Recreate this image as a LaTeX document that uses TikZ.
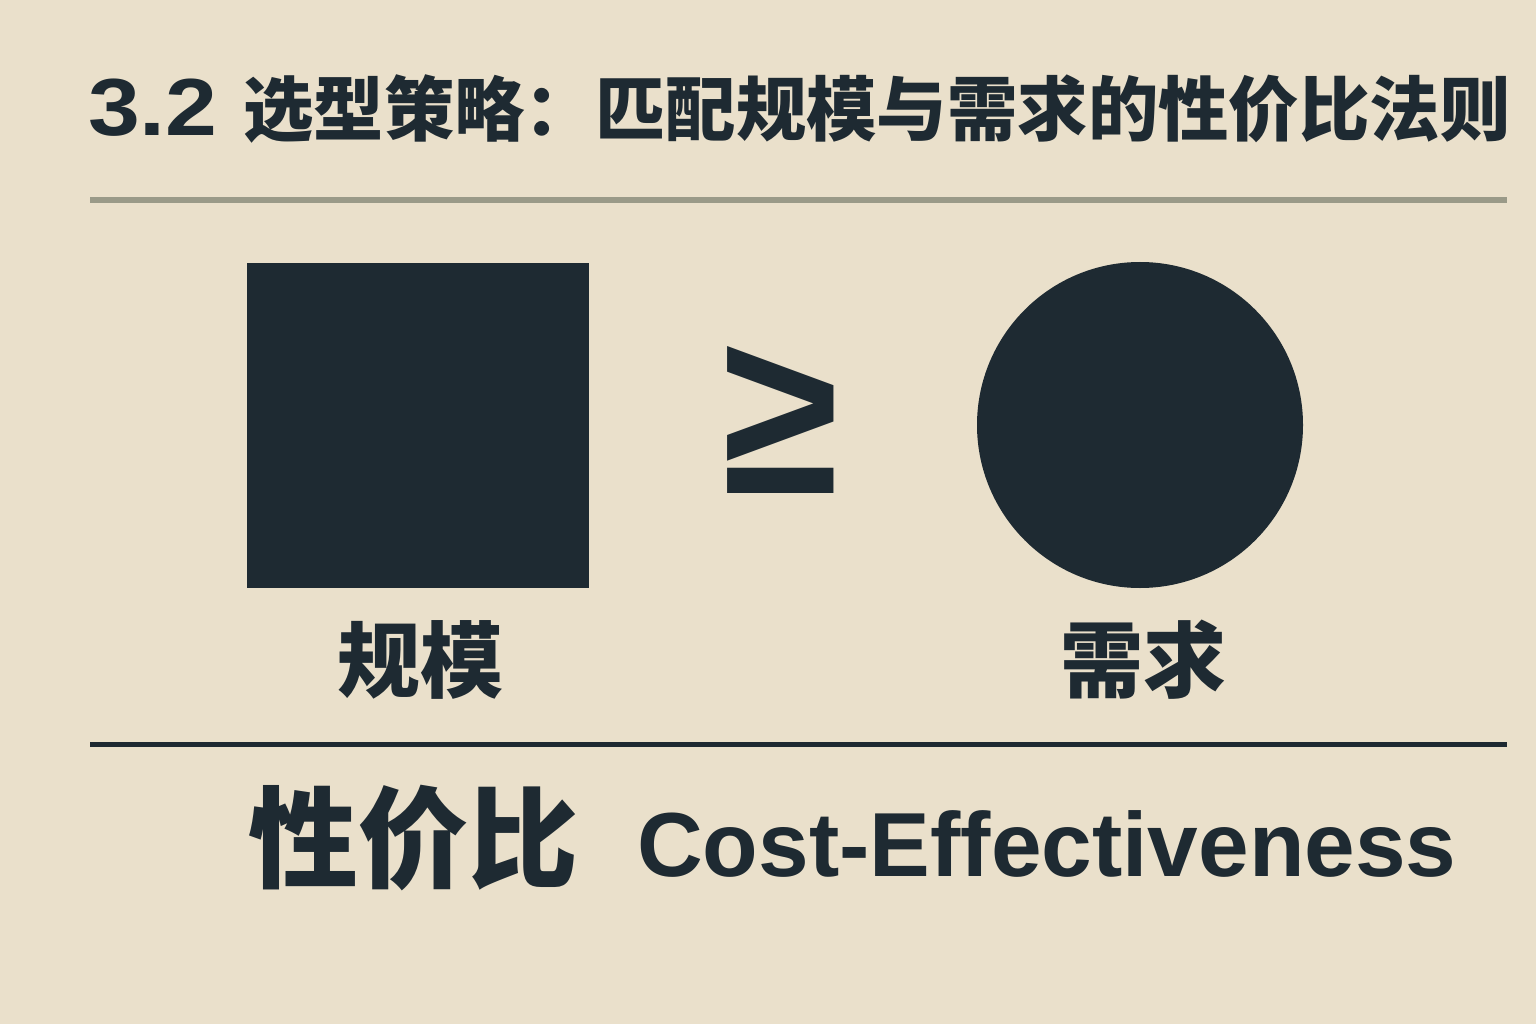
\documentclass[tikz,border=0pt]{standalone}
\usepackage{fontspec}
\usetikzlibrary{positioning}
\newfontfamily\cjk{Noto Sans CJK SC}
\newfontfamily\latin{Liberation Sans}
\definecolor{paper}{HTML}{EAE0CB}
\definecolor{ink}{HTML}{1E2A32}
\definecolor{rulec}{HTML}{9A9A88}
\tikzstyle{heading}=[text=ink, inner sep=0pt,
    font=\cjk\bfseries\fontsize{70.4}{80}\selectfont]
\tikzstyle{lbl}=[text=ink, inner sep=0pt,
    font=\cjk\bfseries\fontsize{83}{90}\selectfont]
\tikzstyle{big}=[text=ink, inner sep=0pt,
    font=\cjk\bfseries\fontsize{110}{120}\selectfont]
\tikzstyle{eng}=[text=ink, inner sep=0pt,
    font=\latin\bfseries\fontsize{91}{100}\selectfont]
\tikzstyle{solid}=[fill=ink, inner sep=0pt]
\def\labeldrop{103}

\begin{document}
\begin{tikzpicture}[x=1pt, y=-1pt]
    \fill[paper] (0,0) rectangle (1536,1024);
    \useasboundingbox (0,0) rectangle (1536,1024);
    \node (title) [heading, anchor=base west] at (88,136)
        {\makebox[155pt][l]{\latin\fontsize{81}{81}\selectfont\scalebox{1.15}[1]{3.2}}选型策略：匹配规模与需求的性价比法则};
    \coordinate (topl) at (90,200);
    \coordinate (topr) at (1507,200);
    \draw[line width=6pt, rulec] (topl) -- (topr);
    \node (scale) [solid, minimum width=342pt, minimum height=325pt] at (418,425.5) {};
    \node (demand) [solid, circle, minimum size=326pt] at (1140,425) {};
    \node (geq) [text=ink, inner sep=0pt,
        font=\latin\bfseries\fontsize{232}{232}\selectfont] at (781,420) {\scalebox{0.915}[1]{≥}};
    \path (scale.south) +(2,\labeldrop) node (scalelbl) [lbl, anchor=base] {规模};
    \path (demand.south) +(3,\labeldrop) node (demandlbl) [lbl, anchor=base] {需求};
    \coordinate (botl) at (90,744);
    \coordinate (botr) at (1507,744);
    \draw[line width=5pt, ink] (botl) -- (botr);
    \node (value) [big, anchor=base west] at (248,879) {性价比};
    \node (valueen) [eng, anchor=base west] at (637,876) {Cost-Effectiveness};
\end{tikzpicture}
\end{document}
